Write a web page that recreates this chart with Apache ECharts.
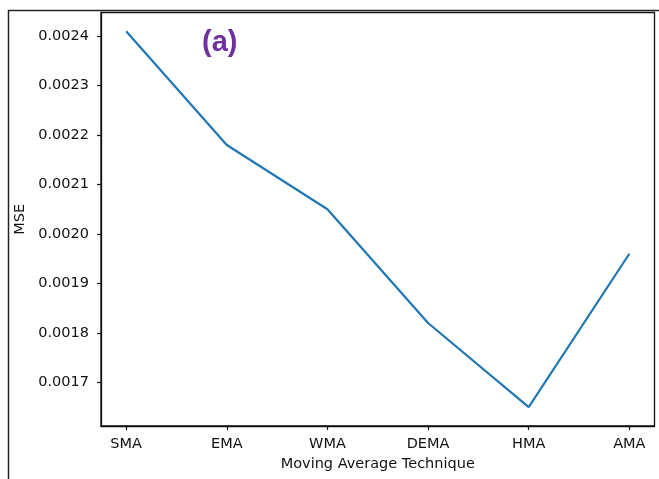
<!DOCTYPE html>
<html>
<head>
<meta charset="utf-8">
<script src="https://cdn.jsdelivr.net/npm/echarts@6/dist/echarts.min.js"></script>
<style>html,body{margin:0;padding:0;background:#fff;}#c{width:659px;height:479px;}</style>
</head>
<body>
<div id="c"></div>
<script>
const categories = ['SMA', 'EMA', 'WMA', 'DEMA', 'HMA', 'AMA'];
const mseValues = [0.00241, 0.00218, 0.00205, 0.00182, 0.00165, 0.00196];
const yTicks = [0.0017, 0.0018, 0.0019, 0.0020, 0.0021, 0.0022, 0.0023, 0.0024];
const xTicks = categories.map((c, i) => i);

const chart = echarts.init(document.getElementById('c'), null, {renderer: 'canvas'});
const font = 'DejaVu Sans';
const lineData = categories.map((c, i) => [i, mseValues[i]]);
chart.setOption({
  animation: false,
  backgroundColor: '#fff',
  title: {
    text: '(a)', left: 197, top: 23,
    textStyle: {color: '#7030A0', fontFamily: 'Liberation Sans', fontWeight: 'bold', fontSize: 29}
  },
  graphic: [
    {type: 'polyline', shape: {points: [[8.5, 479], [8.5, 10.5], [659, 10.5]]}, style: {stroke: '#222', lineWidth: 1.5, fill: null}, silent: true}
  ],
  grid: {left: 101, top: 12.5, right: 4.5, bottom: 53, show: true, borderColor: '#111', borderWidth: 1.3, backgroundColor: 'transparent'},
  xAxis: {
    type: 'value', min: -0.25, max: 5.25,
    name: 'Moving Average Technique', nameLocation: 'middle', nameGap: 31,
    nameTextStyle: {fontFamily: font, fontSize: 14.5, color: '#111'},
    axisLine: {show: true, onZero: false, lineStyle: {color: '#111', width: 1.3}},
    axisTick: {show: true, customValues: xTicks, length: 4, inside: false, lineStyle: {color: '#111', width: 1.2}},
    axisLabel: {customValues: xTicks, margin: 11, fontFamily: font, fontSize: 14.5, color: '#111',
      formatter: v => categories[Math.round(v)] || ''},
    splitLine: {show: false}
  },
  yAxis: {
    type: 'value', min: 0.0016117, max: 0.0024479,
    name: 'MSE', nameLocation: 'middle', nameGap: 72,
    nameTextStyle: {fontFamily: font, fontSize: 14.5, color: '#111'},
    axisLine: {show: true, onZero: false, lineStyle: {color: '#111', width: 1.3}},
    axisTick: {show: true, customValues: yTicks, length: 4, inside: false, lineStyle: {color: '#111', width: 1.2}},
    axisLabel: {customValues: yTicks, margin: 12, fontFamily: font, fontSize: 14.5, color: '#111',
      formatter: v => v.toFixed(4)},
    splitLine: {show: false}
  },
  series: [{
    type: 'line', data: lineData, showSymbol: false, symbol: 'none',
    lineStyle: {color: '#1f77b4', width: 2.2}, itemStyle: {color: '#1f77b4'}
  }]
});
</script>
</body>
</html>
